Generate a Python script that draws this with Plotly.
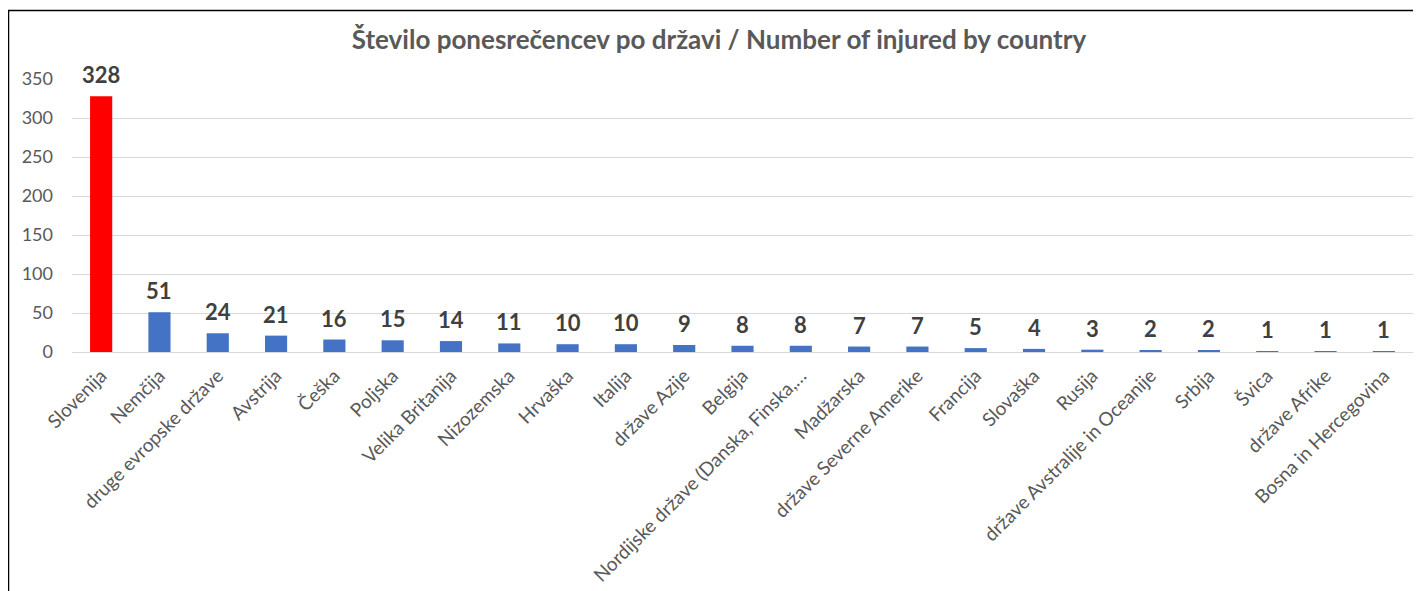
import plotly.graph_objects as go

# podatki
drzave = [
    "Slovenija", "Nemčija", "druge evropske države", "Avstrija", "Češka",
    "Poljska", "Velika Britanija", "Nizozemska", "Hrvaška", "Italija",
    "države Azije", "Belgija", "Nordijske države (Danska, Finska,…",
    "Madžarska", "države Severne Amerike", "Francija", "Slovaška", "Rusija",
    "države Avstralije in Oceanije", "Srbija", "Švica", "države Afrike",
    "Bosna in Hercegovina",
]
ponesreceni = [328, 51, 24, 21, 16, 15, 14, 11, 10, 10, 9, 8, 8, 7, 7, 5, 4, 3, 2, 2, 1, 1, 1]
y_ticks = [0, 50, 100, 150, 200, 250, 300, 350]

RED = "#FF0000"
BLUE = "#4472C4"
barve = [RED] + [BLUE] * (len(drzave) - 1)

# stran ima 8px roba (body margin), zato je figura manjsa
OFF = 8
W, H = 1421 - OFF, 591 - OFF
M = dict(l=72 - OFF, r=8, t=79 - OFF, b=239)

fig = go.Figure()
fig.add_trace(go.Bar(
    x=list(range(len(drzave))),
    y=ponesreceni,
    marker_color=barve,
    marker_line_width=0,
    hoverinfo="skip",
))

# oznake vrednosti nad stolpci
for i, v in enumerate(ponesreceni):
    fig.add_annotation(
        x=i, y=v, text=f"<b>{v}</b>", showarrow=False,
        yanchor="bottom", yshift=6,
        font=dict(family="Lato", size=22, color="#404040"),
    )

# okvir grafa (pikslji strani -> paper)
pw = W - M["l"] - M["r"]
ph = H - M["t"] - M["b"]
def px_x(p):
    return (p - OFF - M["l"]) / pw
def px_y(p):
    return (H - M["b"] - (p - OFF)) / ph

fig.add_shape(type="rect", xref="paper", yref="paper",
              x0=px_x(8.5), x1=px_x(1440), y0=px_y(10.5), y1=px_y(620),
              line=dict(color="#000000", width=1.5), layer="below")

fig.update_layout(
    width=W, height=H,
    margin=M,
    paper_bgcolor="white",
    plot_bgcolor="white",
    showlegend=False,
    bargap=0.62,
    title=dict(
        text="<b>Število ponesrečencev po državi / Number of injured by country</b>",
        x=px_x(719), xanchor="center", xref="paper",
        y=1 - (40 - OFF) / H, yanchor="middle",
        font=dict(family="Lato", size=26, color="#595959"),
    ),
    xaxis=dict(
        tickmode="array",
        tickvals=list(range(len(drzave))),
        ticktext=drzave,
        tickangle=-45,
        tickfont=dict(family="Lato", size=19, color="#595959"),
        range=[-0.5, len(drzave) - 0.5],
        showgrid=False,
        zeroline=False,
        showline=False,
        ticks="",
        automargin=False,
        ticklabelstandoff=8,
    ),
    yaxis=dict(
        range=[0, 350],
        tickmode="array",
        tickvals=y_ticks,
        tickfont=dict(family="Lato", size=18, color="#595959"),
        gridcolor="#D9D9D9",
        gridwidth=1,
        zeroline=True,
        zerolinecolor="#D9D9D9",
        zerolinewidth=1,
        showline=False,
        ticks="",
        ticklabelstandoff=18,
        automargin=False,
    ),
)

fig.write_html("out.html")
